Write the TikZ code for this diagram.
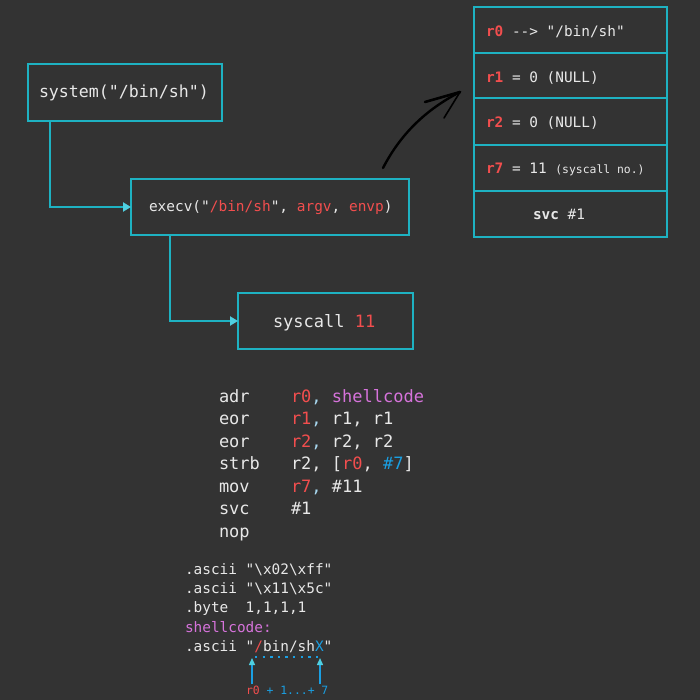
\documentclass[tikz,border=0pt]{standalone}
\usepackage{fontspec}
\setmonofont{DejaVu Sans Mono}
\usetikzlibrary{arrows.meta}
\definecolor{bgc}{HTML}{333333}
\definecolor{boxc}{HTML}{1EB2C2}
\definecolor{tipc}{HTML}{4FCFE0}
\definecolor{txt}{HTML}{E8E8E8}
\definecolor{rred}{HTML}{F24E4E}
\definecolor{magc}{HTML}{D673DB}
\definecolor{bluc}{HTML}{1A9FE2}
\definecolor{comc}{HTML}{A8D8F0}
\newcommand{\fs}[1]{\fontsize{#1}{#1}\selectfont}
\begin{document}
\begin{tikzpicture}[x=1pt,y=-1pt,
  every node/.style={inner sep=0pt,outer sep=0pt,text=txt,font=\ttfamily},
  box/.style={draw=boxc,line width=2pt},
  txtb/.style={anchor=base west},
  conn/.style={draw=boxc,line width=2pt,-{Triangle[length=8pt,width=9pt,color=tipc]}},
  divl/.style={draw=boxc,line width=2pt},
  cyarr/.style={draw=bluc,line width=1.4pt,-{Triangle[length=7pt,width=6pt,color=tipc]}}]
\fill[bgc] (0,0) rectangle (700,700);
\useasboundingbox (0,0) rectangle (700,700);

% boxes
\node[box,minimum width=194pt,minimum height=57pt] (sys) at (125,92.5) {};
\node[box,minimum width=278pt,minimum height=56pt] (exe) at (270,207) {};
\node[box,minimum width=175pt,minimum height=56pt] (scl) at (325.5,321) {};
\node[box,minimum width=193pt,minimum height=230pt] (reg) at (570.5,122) {};
\foreach \yy in {53,98,145,191} \draw[divl] (474,\yy) -- (667,\yy);

% box texts
\node[txtb] (tsys) at (39,98) {\fs{16.6}system("/bin/sh")};
\node[txtb] (texe) at (149,212) {\fs{14.45}execv("\textcolor{rred}{/bin/sh}", \textcolor{rred}{argv}, \textcolor{rred}{envp})};
\node[txtb] (tscl) at (273,327) {\fs{17}syscall \textcolor{rred}{11}};

% register table
\node[txtb] (r0) at (486,37) {\fs{14.4}\textcolor{rred}{\bfseries r0} --> "/bin/sh"};
\node[txtb] (r1) at (486,83) {\fs{14.4}\textcolor{rred}{\bfseries r1} = 0 (NULL)};
\node[txtb] (r2) at (486,128) {\fs{14.4}\textcolor{rred}{\bfseries r2} = 0 (NULL)};
\node[txtb] (r7) at (486,174) {\fs{14.4}\textcolor{rred}{\bfseries r7} = 11 {\fs{11.4}(syscall no.)}};
\node[txtb] (svc) at (533,220) {\fs{14.4}{\bfseries svc} \#1};

% connectors
\coordinate (sysb) at ([xshift=22pt]sys.south west);
\coordinate (exeb) at ([xshift=39pt]exe.south west);
\draw[conn] (sysb) |- (exe.west);
\draw[conn] (exeb) |- (scl.west);

% curved black arrow
\coordinate (ca) at (383,168);
\coordinate (cb) at (460,92);
\draw[black,line width=2.4pt,line cap=round] (ca) .. controls (400,135) and (425,110) .. (cb);
\draw[black,line width=2.6pt,line cap=round] (cb) -- ++(-35,10);
\draw[black,line width=1.6pt,line cap=round] (cb) -- ++(-16,26);

% code
\foreach \m [count=\i from 0] in {adr,eor,eor,strb,mov,svc,nop}
  \node[txtb] (m\i) at (219,402+22.5*\i) {\fs{17}\m};
\node[txtb] (o0) at (291,402) {\fs{17}\textcolor{rred}{r0}\textcolor{comc}{,} \textcolor{magc}{shellcode}};
\node[txtb] (o1) at (291,424.5) {\fs{17}\textcolor{rred}{r1}\textcolor{comc}{,} r1, r1};
\node[txtb] (o2) at (291,447) {\fs{17}\textcolor{rred}{r2}\textcolor{comc}{,} r2, r2};
\node[txtb] (o3) at (291,469.5) {\fs{17}r2, [\textcolor{rred}{r0}, \textcolor{bluc}{\#7}]};
\node[txtb] (o4) at (291,492) {\fs{17}\textcolor{rred}{r7}\textcolor{comc}{,} \#11};
\node[txtb] (o5) at (291,514.5) {\fs{17}\#1};

% ascii block
\node[txtb] (a1) at (185,574) {\fs{14.4}.ascii "\string\x02\string\xff"};
\node[txtb] (a2) at (185,593) {\fs{14.4}.ascii "\string\x11\string\x5c"};
\node[txtb] (a3) at (185,612) {\fs{14.4}.byte\ \ 1,1,1,1};
\node[txtb] (a4) at (185,632) {\fs{14.4}\textcolor{magc}{shellcode:}};
\node[txtb] (a5) at (185,651) {\fs{14.4}.ascii "\textcolor{rred}{/}bin/sh\textcolor{bluc}{X}"};

% dotted range and arrows
\draw[bluc,line width=2.4pt,dash pattern=on 2.4pt off 5.2pt] (255,657) -- (321,657);
\coordinate (p1a) at (252,684);
\coordinate (p1b) at (252,658);
\coordinate (p2a) at (320,684);
\coordinate (p2b) at (320,658);
\draw[cyarr] (p1a) -- (p1b);
\draw[cyarr] (p2a) -- (p2b);
\node[txtb] (lab) at (246,694) {\fs{11.4}\textcolor{rred}{r0}\ \textcolor{bluc}{+ 1...+ 7}};
\end{tikzpicture}
\end{document}
